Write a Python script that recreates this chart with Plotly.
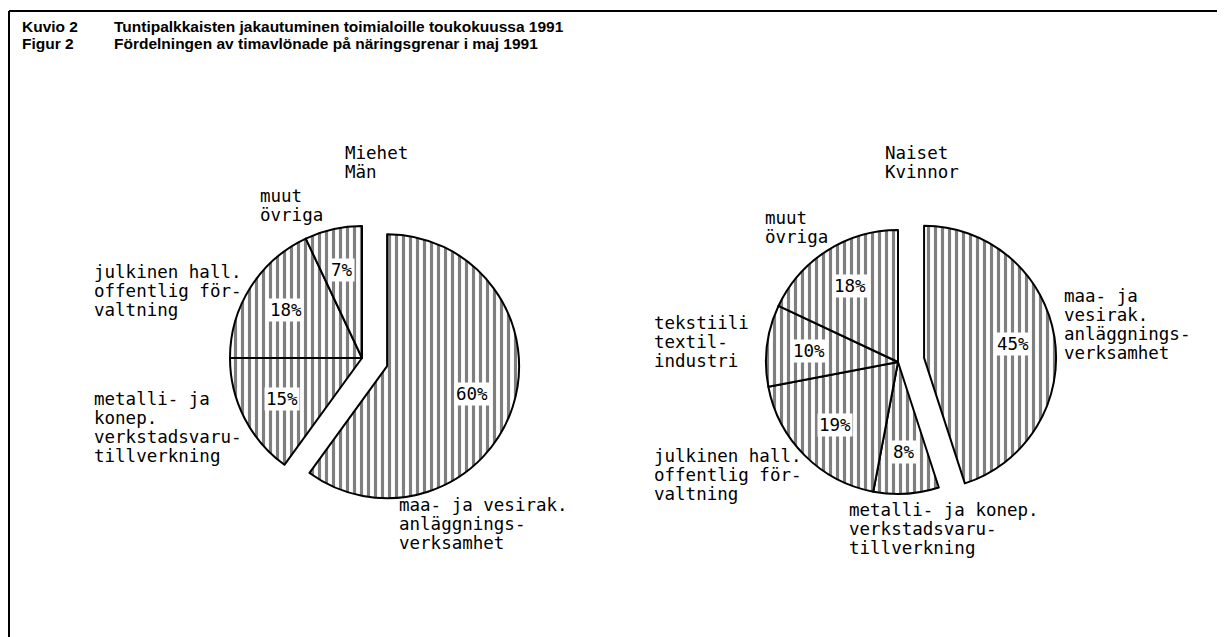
import math
import plotly.graph_objects as go

# page is rendered with the browser's default 8px body margin
OFF = 8
W, H = 1225 - OFF, 637 - OFF

# ---- data ----
men_categories = ["maa- ja vesirak.", "metalli- ja konep.", "julkinen hall.", "muut"]
men_values = [60, 15, 18, 7]
men_pull = [0.2, 0, 0, 0]

women_categories = ["maa- ja vesirak.", "metalli- ja konep.", "julkinen hall.", "tekstiili", "muut"]
women_values = [45, 8, 19, 10, 18]
women_pull = [0.2, 0, 0, 0, 0]

title_fi = "Tuntipalkkaisten jakautuminen toimialoille toukokuussa 1991"
title_sv = "Fördelningen av timavlönade på näringsgrenar i maj 1991"

# outside labels (text lines) and their anchor positions (page px, first line centre)
men_title = ["Miehet", "Män"]
women_title = ["Naiset", "Kvinnor"]
men_text = [
    (["maa- ja vesirak.", "anläggnings-", "verksamhet"], 397, 505),
    (["metalli- ja", "konep.", "verkstadsvaru-", "tillverkning"], 92, 399),
    (["julkinen hall.", "offentlig för-", "valtning"], 92, 272),
    (["muut", "övriga"], 258, 196),
]
women_text = [
    (["maa- ja", "vesirak.", "anläggnings-", "verksamhet"], 1062, 296),
    (["metalli- ja konep.", "verkstadsvaru-", "tillverkning"], 847, 510),
    (["julkinen hall.", "offentlig för-", "valtning"], 652, 456),
    (["tekstiili", "textil-", "industri"], 652, 323),
    (["muut", "övriga"], 763, 218),
]

# ---- layout geometry (page px) ----
R = 132
MEN_C = (362, 358)
WOMEN_C = (898, 362)
LINE = 19
MONO = "DejaVu Sans Mono"
FS = 17.5
PCT_R = 0.68


def px(x, y):
    return (x - OFF) / W, 1 - (y - OFF) / H


def domain(center, pulls):
    half = R * (1 + max(pulls))
    cx, cy = center
    x0, y1 = px(cx - half, cy - half)
    x1, y0 = px(cx + half, cy + half)
    return dict(x=[x0, x1], y=[y0, y1])


def pie(labels, values, pulls, center):
    return go.Pie(
        labels=labels, values=values, pull=pulls, sort=False,
        direction="clockwise", rotation=0, textinfo="none",
        hoverinfo="skip", showlegend=False,
        domain=domain(center, pulls),
        marker=dict(
            colors=["white"] * len(values),
            line=dict(color="black", width=2),
            pattern=dict(shape="|", fgcolor="black", bgcolor="white",
                         size=7, solidity=0.45, fillmode="overlay"),
        ),
    )


fig = go.Figure()
fig.add_trace(pie(men_categories, men_values, men_pull, MEN_C))
fig.add_trace(pie(women_categories, women_values, women_pull, WOMEN_C))

annotations = []


def pct_labels(values, pulls, center):
    total = sum(values)
    cum = 0
    for v, p in zip(values, pulls):
        mid = (cum + v / 2) / total * 2 * math.pi
        cum += v
        d = R * (PCT_R + p)
        x, y = px(center[0] + d * math.sin(mid), center[1] - d * math.cos(mid))
        annotations.append(dict(
            x=x, y=y, xref="paper", yref="paper",
            xanchor="center", yanchor="middle",
            text=f"{v}%", showarrow=False, bgcolor="white", borderpad=1,
            font=dict(family=MONO, size=FS, color="black"),
        ))


pct_labels(men_values, men_pull, MEN_C)
pct_labels(women_values, women_pull, WOMEN_C)


def text_block(lines, x, y):
    for i, t in enumerate(lines):
        ax, ay = px(x, y + i * LINE)
        annotations.append(dict(
            x=ax, y=ay, xref="paper", yref="paper",
            xanchor="left", yanchor="middle", text=t, showarrow=False,
            font=dict(family=MONO, size=FS, color="black"),
        ))


text_block(men_title, 343, 153)
text_block(women_title, 883, 153)
for lines, x, y in men_text + women_text:
    text_block(lines, x, y)

# title lines
for i, (k, t) in enumerate([("Kuvio 2", title_fi), ("Figur 2", title_sv)]):
    yy = 27 + i * 16
    for txt, xx in [(k, 20), (t, 112)]:
        ax, ay = px(xx, yy)
        annotations.append(dict(
            x=ax, y=ay, xref="paper", yref="paper",
            xanchor="left", yanchor="middle", text=f"<b>{txt}</b>",
            showarrow=False,
            font=dict(family="Liberation Sans", size=15.5, color="black"),
        ))

bx, by = px(9, 11)
shapes = [
    dict(type="line", xref="paper", yref="paper", x0=bx, x1=1,
         y0=by, y1=by, line=dict(color="black", width=2)),
    dict(type="line", xref="paper", yref="paper", x0=bx, x1=bx,
         y0=by, y1=0, line=dict(color="black", width=2)),
]

fig.update_layout(
    width=W, height=H, margin=dict(l=0, r=0, t=0, b=0),
    paper_bgcolor="white", plot_bgcolor="white",
    annotations=annotations, shapes=shapes,
)

fig.write_html("out.html")
